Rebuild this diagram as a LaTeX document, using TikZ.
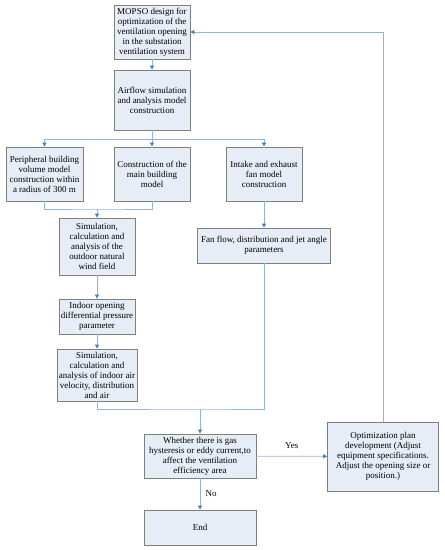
\documentclass[tikz,border=0pt]{standalone}
\usepackage{fontspec}
\setmainfont{Liberation Serif}
\usetikzlibrary{arrows.meta}
\definecolor{boxfill}{HTML}{E7EDF6}
\definecolor{boxline}{HTML}{7F7F7F}
\definecolor{conn}{HTML}{95B3D7}
\definecolor{tip}{HTML}{4A7EBB}
\tikzset{
  box/.style={draw=boxline, fill=boxfill, line width=0.8pt, align=center, inner sep=1pt,
    font=\fontsize{9}{10}\selectfont},
  conline/.style={draw=conn, line width=0.8pt},
  arr/.style={conline, -{Triangle[length=4pt,width=4pt,color=tip]}},
  lbl/.style={font=\fontsize{9}{10}\selectfont}
}
\begin{document}
\begin{tikzpicture}[x=1pt,y=-1pt]
\useasboundingbox (0,0) rectangle (445,550);
\node[box, minimum width=76pt, minimum height=54pt] (b1) at (152,32) {MOPSO design for\\optimization of the\\ventilation opening\\in the substation\\ventilation system};
\node[box, minimum width=76pt, minimum height=60pt] (b2) at (152,100) {Airflow simulation\\and analysis model\\construction};
\node[box, minimum width=77pt, minimum height=54pt] (b3) at (44.5,174) {Peripheral building\\volume model\\construction within\\a radius of 300 m};
\node[box, minimum width=76pt, minimum height=54pt] (b4) at (152,174) {Construction of the\\main building\\model};
\node[box, minimum width=76pt, minimum height=54pt] (b5) at (264,174) {Intake and exhaust\\fan model\\construction};
\node[box, minimum width=133pt, minimum height=35pt] (b6) at (264,245.5) {Fan flow, distribution and jet angle\\parameters};
\node[box, minimum width=76pt, minimum height=57pt] (b7) at (97,246.5) {Simulation,\\calculation and\\analysis of the\\outdoor natural\\wind field};
\node[box, minimum width=76pt, minimum height=35pt] (b8) at (97,316.5) {Indoor opening\\differential pressure\\parameter};
\node[box, minimum width=80pt, minimum height=52pt] (b9) at (97,375) {Simulation,\\calculation and\\analysis of indoor air\\velocity, distribution\\and air};
\node[box, minimum width=112pt, minimum height=44pt] (b10) at (200,456) {Whether there is gas\\hysteresis or eddy current,to\\affect the ventilation\\efficiency area};
\node[box, minimum width=112pt, minimum height=35pt] (b11) at (200,527.5) {End};
\node[box, minimum width=111pt, minimum height=69pt] (b12) at (383,456.5) {Optimization plan\\development (Adjust\\equipment specifications.\\Adjust the opening size or\\position.)};
\coordinate (j1) at (152,139);
\coordinate (j2) at (97,209);
\coordinate (j3) at (200,409);
\draw[arr] (b1) -- (b2);
\draw[conline] (b2.south) -- (j1);
\draw[arr] (j1) -| (b3.north);
\draw[arr] (j1) -- (b4.north);
\draw[arr] (j1) -| (b5.north);
\draw[arr] (b5) -- (b6);
\draw[conline] (b3.south) |- (j2) -| (b4.south);
\draw[arr] (j2) -- (b7.north);
\draw[arr] (b7) -- (b8);
\draw[arr] (b8) -- (b9);
\draw[conline] (b9.south) |- (j3) -| (b6.south);
\draw[arr] (j3) -- (b10.north);
\draw[arr] (b10) -- node[lbl, right=2pt] {No} (b11);
\draw[arr] (b10) -- node[lbl, above=4pt] {Yes} (b12);
\draw[arr] (b12.north) |- (b1.east);
\end{tikzpicture}
\end{document}
